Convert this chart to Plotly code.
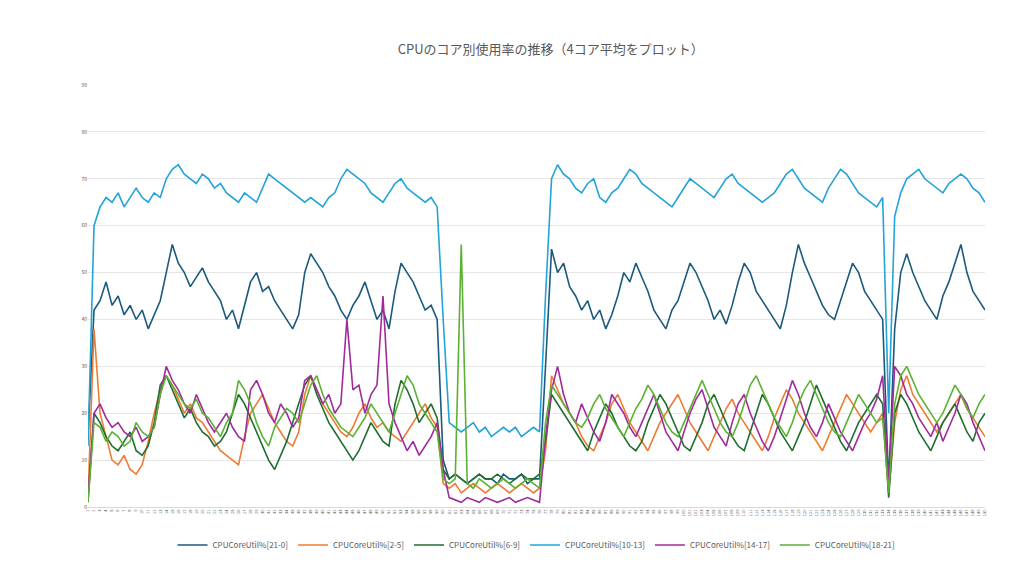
import plotly.graph_objects as go

# Segments: start, high1(58), drop, low(16), rise, high2(56), dip, high3(16)
core_21_0 = [15] + [42,44,48,43,45,41,43,40,42,38,
41,44,50,56,52,50,47,49,51,48,
46,44,40,42,38,43,48,50,46,47,
44,42,40,38,41,50,54,52,50,47,
45,42,40,43,45,48,44,40,42,38,
46,52,50,48,45,42,43,40] + [10] + [6,7,6,5,6,7,6,6,5,7,6,6,7,5,6,6] + [30] + [55,50,52,47,45,42,44,40,42,38,
41,45,50,48,52,49,46,42,40,38,
42,44,48,52,50,47,44,40,42,39,
43,48,52,50,46,44,42,40,38,43,
50,56,52,49,46,43,41,40,44,48,
52,50,46,44,42,40] + [5] + [38,50,54,50,47,44,42,40,45,48,52,56,50,46,44,42]

core_2_5 = [2] + [38,20,15,10,9,11,8,7,9,14,
20,25,28,26,23,20,22,19,18,16,
14,12,11,10,9,15,20,22,24,21,
18,16,14,13,16,24,28,25,22,20,
18,16,15,17,20,22,19,17,18,16,
15,14,16,18,20,22,19,17] + [5] + [4,5,3,4,5,4,3,4,5,4,3,4,5,4,3,4] + [12] + [28,25,22,20,18,15,13,12,15,18,
22,24,21,18,16,14,12,15,18,20,
22,24,21,18,16,14,12,15,18,21,
23,20,18,16,14,12,15,19,22,25,
23,20,18,16,14,12,15,18,21,24,
22,20,18,16,18,20] + [3] + [18,25,28,24,22,20,18,16,18,20,22,24,21,19,17,15]

core_6_9 = [1] + [20,18,15,13,12,14,16,12,11,13,
18,26,28,25,22,19,21,18,16,15,
13,14,16,20,24,22,19,16,13,10,
8,11,14,18,22,26,28,24,21,18,
16,14,12,10,12,15,18,16,14,13,
22,27,25,22,18,20,22,19] + [8] + [6,7,6,5,6,7,6,6,7,6,5,6,7,6,6,7] + [14] + [24,22,20,18,16,14,12,16,19,22,
20,17,15,13,12,14,18,21,24,22,
19,16,13,12,15,18,22,24,21,18,
15,13,12,16,20,24,22,19,16,14,
12,15,18,22,26,23,20,17,14,12,
15,18,20,22,24,22] + [2] + [20,24,22,19,16,14,12,15,18,20,22,19,16,14,18,20]

core_10_13 = [13] + [60,64,66,65,67,64,66,68,66,65,
67,66,70,72,73,71,70,69,71,70,
68,69,67,66,65,67,66,65,68,71,
70,69,68,67,66,65,66,65,64,66,
67,70,72,71,70,69,67,66,65,67,
69,70,68,67,66,65,66,64] + [40] + [18,17,16,17,18,16,17,15,16,17,16,17,15,16,17,16] + [45] + [70,73,71,70,68,67,69,70,66,65,
67,68,70,72,71,69,68,67,66,65,
64,66,68,70,69,68,67,66,68,70,
71,69,68,67,66,65,66,67,69,71,
72,70,68,67,66,65,68,70,72,71,
69,67,66,65,64,66] + [20] + [62,67,70,71,72,70,69,68,67,69,70,71,70,68,67,65]

core_14_17 = [2] + [20,22,19,17,18,16,15,17,14,15,
17,24,30,27,25,22,20,24,21,18,
16,18,20,17,15,14,25,27,24,20,
18,22,20,17,19,27,28,25,22,24,
20,22,40,25,26,20,24,26,45,22,
18,15,12,14,11,13,15,18] + [8] + [2,1.5,1,2,1.5,1,2,1.5,1,1.5,2,1,1.5,2,1.5,1] + [15] + [25,30,24,20,18,22,19,16,14,18,
24,22,20,17,15,18,21,24,20,16,
14,12,16,20,23,25,21,17,15,13,
18,22,24,20,17,14,12,15,19,23,
27,24,20,17,15,18,22,19,16,14,
12,15,18,20,23,28] + [5] + [30,28,24,22,19,17,15,18,14,17,20,24,22,18,15,12]

core_18_21 = [1] + [18,17,14,16,15,13,14,18,16,15,
17,24,28,26,24,22,21,23,20,19,
17,15,18,20,27,25,22,18,15,13,
17,19,21,20,18,22,26,28,24,21,
19,17,16,15,17,19,22,20,18,16,
20,24,28,26,22,20,18,16] + [6] + [5,6,56,5,4,6,5,4,5,6,5,4,5,6,5,4] + [18] + [26,24,22,20,18,17,19,22,24,21,
19,17,15,18,21,23,26,24,21,18,
16,15,18,21,24,27,24,21,18,16,
15,18,22,26,28,25,22,19,17,15,
18,22,25,27,24,21,18,16,15,18,
21,24,22,20,18,19] + [3] + [22,28,30,27,24,22,20,18,20,23,26,24,21,19,22,24]

series = [
    ("CPUCoreUtil%[21-0]", core_21_0, "#1b5a7c"),
    ("CPUCoreUtil%[2-5]", core_2_5, "#ef7b33"),
    ("CPUCoreUtil%[6-9]", core_6_9, "#1f6e30"),
    ("CPUCoreUtil%[10-13]", core_10_13, "#22a3d9"),
    ("CPUCoreUtil%[14-17]", core_14_17, "#a12b9c"),
    ("CPUCoreUtil%[18-21]", core_18_21, "#5bb133"),
]
n = min(len(s[1]) for s in series)
x = list(range(1, n + 1))

fig = go.Figure()
for name, vals, col in series:
    fig.add_trace(go.Scatter(x=x, y=vals[:n], name=name, mode="lines",
                             line=dict(color=col, width=1.6)))

fig.update_layout(
    width=1024, height=563, plot_bgcolor="white", paper_bgcolor="white",
    margin=dict(l=80, r=47, t=77, b=50),
    title=dict(text="CPUのコア別使用率の推移（4コア平均をプロット）", x=0.53, y=0.935,
               font=dict(size=13, color="#595959", family="Noto Sans CJK JP")),
    font=dict(family="Noto Sans CJK JP", color="#595959"),
    legend=dict(orientation="h", x=0.5, xanchor="center", y=-0.09, yanchor="middle",
                font=dict(size=8, color="#595959")),
    showlegend=True,
)
fig.update_yaxes(range=[0, 90], dtick=10, showgrid=True, gridcolor="#e6e6e6",
                 zeroline=False, tickfont=dict(size=5), automargin=False)
fig.update_xaxes(type="category", showgrid=False, tickangle=-90, tickfont=dict(size=4),
                 showline=True, linecolor="#d9d9d9", automargin=False)
fig.write_html("out.html")
